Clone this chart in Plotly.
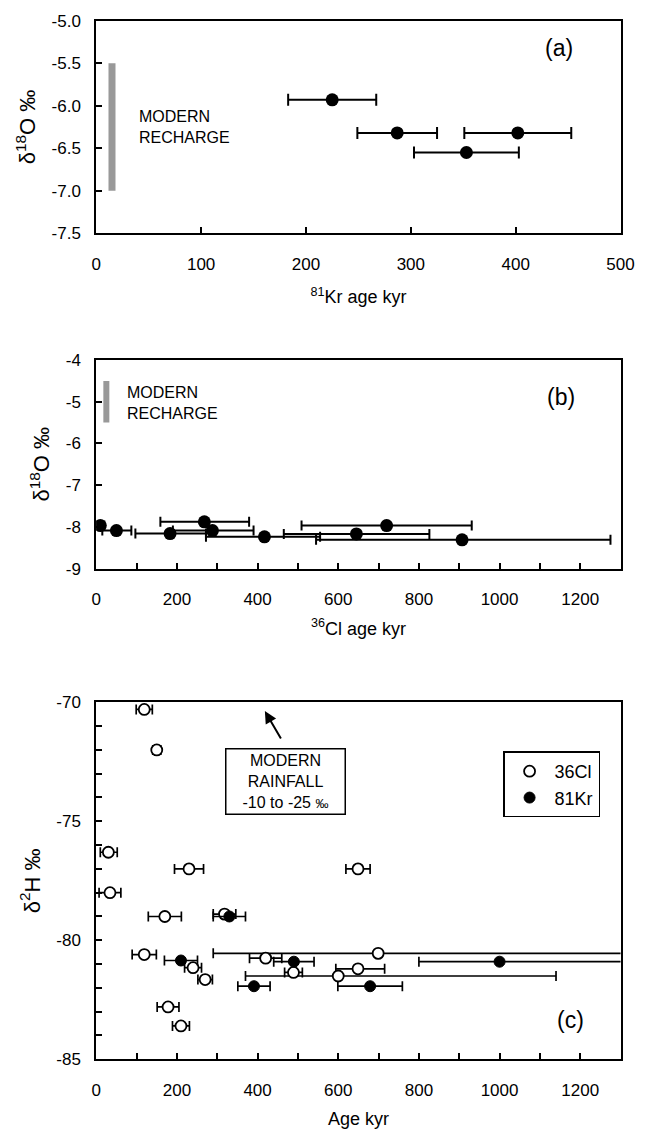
import plotly.graph_objects as go

# ---------------- data ----------------
# Panel (a): 81Kr age vs d18O
a_age = [225, 287, 353, 402]
a_d18o = [-5.93, -6.32, -6.55, -6.32]
a_err = [42, 38, 50, 51]
a_modern_x = [15, 15]
a_modern_y = [-5.5, -7.0]

# Panel (b): 36Cl age vs d18O
b_age = [10, 50, 183, 268, 288, 417, 645, 720, 907]
b_d18o = [-7.97, -8.09, -8.16, -7.88, -8.09, -8.24, -8.17, -7.97, -8.31]
b_err_minus = [10, 35, 86, 109, 98, 145, 180, 211, 362]
b_err_plus = [10, 37, 89, 111, 102, 138, 181, 211, 368]
b_modern_x = [25, 25]
b_modern_y = [-4.5, -5.5]

# Panel (c): age vs d2H
c_cl_age = [119, 150, 30, 230, 649, 34, 170, 318, 119, 699, 420, 240, 649, 489, 600, 270, 178, 210]
c_cl_d2h = [-70.3, -72.0, -76.3, -77.0, -77.0, -78.0, -79.0, -78.9, -80.6, -80.55, -80.75,
            -81.15, -81.2, -81.35, -81.5, -81.65, -82.8, -83.6]
c_cl_err_minus = [20, 10, 20, 36, 30, 27, 41, 28, 30, 409, 40, 21, 55, 22, 230, 18, 27, 21]
c_cl_err_plus = [20, 10, 22, 36, 30, 27, 41, 28, 30, 700, 40, 21, 66, 22, 540, 18, 27, 21]

c_kr_age = [330, 210, 490, 1000, 391, 679]
c_kr_d2h = [-79.0, -80.85, -80.9, -80.9, -81.93, -81.93]
c_kr_err_minus = [40, 41, 50, 200, 40, 80]
c_kr_err_plus = [40, 41, 50, 400, 40, 80]

# tick labels
a_xticks = [0, 100, 200, 300, 400, 500]
a_yticks = [-5.0, -5.5, -6.0, -6.5, -7.0, -7.5]
a_yticklabels = ["-5.0", "-5.5", "-6.0", "-6.5", "-7.0", "-7.5"]
b_xticks = [0, 200, 400, 600, 800, 1000, 1200]
b_yticks = [-4, -5, -6, -7, -8, -9]
b_yticklabels = ["-4", "-5", "-6", "-7", "-8", "-9"]
c_xticks = [0, 200, 400, 600, 800, 1000, 1200]
c_yticks = [-70, -75, -80, -85]
c_yticklabels = ["-70", "-75", "-80", "-85"]

# ---------------- figure ----------------
W, H = 653, 1145
FONT = "Liberation Sans, Arial, sans-serif"
BLACK = "#000000"
GRAY = "#999999"

fig = go.Figure()

# Panel (a)
fig.add_trace(go.Scatter(x=a_modern_x, y=a_modern_y, mode="lines",
                         line=dict(color=GRAY, width=7), showlegend=False,
                         xaxis="x", yaxis="y", hoverinfo="skip"))
fig.add_trace(go.Scatter(x=a_age, y=a_d18o, mode="markers",
                         marker=dict(color=BLACK, size=13),
                         error_x=dict(type="data", array=a_err, color=BLACK, thickness=2, width=6),
                         showlegend=False, xaxis="x", yaxis="y"))

# Panel (b)
fig.add_trace(go.Scatter(x=b_modern_x, y=b_modern_y, mode="lines",
                         line=dict(color=GRAY, width=6), showlegend=False,
                         xaxis="x2", yaxis="y2", hoverinfo="skip"))
fig.add_trace(go.Scatter(x=b_age, y=b_d18o, mode="markers",
                         marker=dict(color=BLACK, size=13),
                         error_x=dict(type="data", symmetric=False, array=b_err_plus,
                                      arrayminus=b_err_minus, color=BLACK, thickness=2, width=5),
                         showlegend=False, xaxis="x2", yaxis="y2"))

# Panel (c)
fig.add_trace(go.Scatter(x=c_cl_age, y=c_cl_d2h, mode="markers", name="36Cl",
                         marker=dict(color="white", size=11, line=dict(color=BLACK, width=1.8)),
                         error_x=dict(type="data", symmetric=False, array=c_cl_err_plus,
                                      arrayminus=c_cl_err_minus, color=BLACK, thickness=1.7, width=5),
                         xaxis="x3", yaxis="y3"))
fig.add_trace(go.Scatter(x=c_kr_age, y=c_kr_d2h, mode="markers", name="81Kr",
                         marker=dict(color=BLACK, size=11, line=dict(color=BLACK, width=1)),
                         error_x=dict(type="data", symmetric=False, array=c_kr_err_plus,
                                      arrayminus=c_kr_err_minus, color=BLACK, thickness=1.7, width=5),
                         xaxis="x3", yaxis="y3"))

def px_dom_x(l, r):
    return [l / W, r / W]

def px_dom_y(top, bottom):
    return [(H - bottom) / H, (H - top) / H]

common_axis = dict(showline=True, linecolor=BLACK, linewidth=2, mirror=True,
                   ticks="inside", ticklen=6, tickwidth=1.5, tickcolor=BLACK,
                   showgrid=False, zeroline=False,
                   tickfont=dict(family=FONT, size=17, color=BLACK))

xdom = px_dom_x(94, 634)

fig.update_layout(
    width=W, height=H,
    margin=dict(l=0, r=0, t=0, b=0),
    paper_bgcolor="white", plot_bgcolor="white",
    font=dict(family=FONT, color=BLACK),
    xaxis=dict(common_axis, domain=xdom, range=[0, 500], tickvals=a_xticks,
               ticklabelstandoff=14, anchor="y",
               title=dict(text="<sup>81</sup>Kr age kyr", font=dict(size=18, family=FONT), standoff=18)),
    yaxis=dict(common_axis, domain=px_dom_y(12, 228), range=[-7.5, -5.0], tickvals=a_yticks,
               ticktext=a_yticklabels, ticklabelstandoff=10, anchor="x",
               title=dict(text="δ<sup>18</sup>O ‰", font=dict(size=22, family=FONT), standoff=10)),
    xaxis2=dict(common_axis, domain=xdom, range=[0, 1300], tickvals=b_xticks,
                minor=dict(dtick=100, ticks="inside", ticklen=6, tickwidth=1.5, tickcolor=BLACK),
                ticklabelstandoff=14, anchor="y2",
                title=dict(text="<sup>36</sup>Cl age kyr", font=dict(size=18, family=FONT), standoff=14)),
    yaxis2=dict(common_axis, domain=px_dom_y(357, 569), range=[-9, -4], tickvals=b_yticks,
                ticktext=b_yticklabels, ticklabelstandoff=10, anchor="x2",
                title=dict(text="δ<sup>18</sup>O ‰", font=dict(size=22, family=FONT), standoff=10)),
    xaxis3=dict(common_axis, domain=xdom, range=[0, 1300], tickvals=c_xticks,
                minor=dict(dtick=100, ticks="inside", ticklen=6, tickwidth=1.5, tickcolor=BLACK),
                ticklabelstandoff=14, anchor="y3",
                title=dict(text="Age kyr", font=dict(size=18, family=FONT), standoff=14)),
    yaxis3=dict(common_axis, domain=px_dom_y(705, 1068), range=[-85, -70], tickvals=c_yticks,
                ticktext=c_yticklabels,
                minor=dict(dtick=1, ticks="inside", ticklen=6, tickwidth=1.5, tickcolor=BLACK),
                ticklabelstandoff=10, anchor="x3",
                title=dict(text="δ<sup>2</sup>H ‰", font=dict(size=22, family=FONT), standoff=10)),
    legend=dict(x=513 / W, y=(H - 755) / H, xanchor="left", yanchor="top",
                bordercolor=BLACK, borderwidth=1.5, bgcolor="white",
                font=dict(family=FONT, size=18, color=BLACK),
                tracegroupgap=0, itemwidth=40),
    showlegend=True,
)

ann = []
ann.append(dict(x=441, y=-5.32, xref="x", yref="y", text="(a)", showarrow=False,
                font=dict(size=23, family=FONT, color=BLACK)))
ann.append(dict(x=39, y=-6.25, xref="x", yref="y", text="MODERN<br>RECHARGE", showarrow=False,
                xanchor="left", align="left", font=dict(size=16, family=FONT, color=BLACK)))
ann.append(dict(x=1152, y=-4.89, xref="x2", yref="y2", text="(b)", showarrow=False,
                font=dict(size=23, family=FONT, color=BLACK)))
ann.append(dict(x=72, y=-5.02, xref="x2", yref="y2", text="MODERN<br>RECHARGE", showarrow=False,
                xanchor="left", align="left", font=dict(size=16, family=FONT, color=BLACK)))
ann.append(dict(x=1175, y=-83.36, xref="x3", yref="y3", text="(c)", showarrow=False,
                font=dict(size=23, family=FONT, color=BLACK)))
ann.append(dict(x=468, y=-73.33, xref="x3", yref="y3",
                text="MODERN<br>RAINFALL<br>-10 to -25 <span style='font-size:13px'>‰</span>",
                showarrow=False, align="center", width=118, height=64,
                bordercolor=BLACK, borderwidth=1.5, borderpad=0, bgcolor="white",
                font=dict(size=16, family=FONT, color=BLACK)))
ann.append(dict(x=418, y=-70.37, xref="x3", yref="y3", ax=460, ay=-71.58,
                axref="x3", ayref="y3", text="", showarrow=True, arrowhead=2,
                arrowsize=1.2, arrowwidth=2, arrowcolor=BLACK))
fig.update_layout(annotations=ann)

fig.write_html("out.html")
